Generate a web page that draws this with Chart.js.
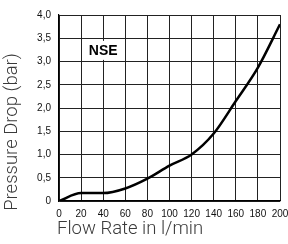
<!DOCTYPE html>
<html>
<head>
<meta charset="utf-8">
<script src="https://cdn.jsdelivr.net/npm/chart.js@4"></script>
<style>
  html, body { margin: 0; padding: 0; background: #fff; }
  #wrap { width: 288px; height: 244px; position: relative; }
</style>
</head>
<body>
<div id="wrap"><canvas id="chart"></canvas></div>
<script>
// flow rate (l/min) and pressure drop (bar)
const flowRate = [0, 20, 40, 60, 80, 100, 120, 140, 160, 180, 200];
const pressureDrop = [0, 0.17, 0.17, 0.27, 0.48, 0.76, 1.0, 1.45, 2.15, 2.87, 3.8];
const yTicks = [0, 0.5, 1.0, 1.5, 2.0, 2.5, 3.0, 3.5, 4.0];
const seriesLabel = 'NSE';
const xTitle = 'Flow Rate in l/min';
const yTitle = 'Pressure Drop (bar)';

// NSE tag on a white patch, plus the two axis titles (they sit off-centre in the original)
const annotations = {
    id: 'annotations',
    afterDraw(chart) {
        const { ctx, scales } = chart;
        const cx = scales.x.getPixelForValue(40);
        const cy = scales.y.getPixelForValue(3.25);
        ctx.save();
        ctx.fillStyle = '#fff';
        ctx.fillRect(cx - 20, cy - 9, 40, 19);
        ctx.fillStyle = '#000';
        ctx.font = 'bold 14px "Liberation Sans", Arial, sans-serif';
        ctx.textAlign = 'center';
        ctx.textBaseline = 'middle';
        ctx.fillText(seriesLabel, cx, cy + 1);

        ctx.fillStyle = '#3a3a3a';
        ctx.font = '300 18.5px Roboto, "Liberation Sans", sans-serif';
        ctx.textAlign = 'left';
        ctx.textBaseline = 'middle';
        ctx.fillText(xTitle, 57, 229);

        ctx.translate(12, 132);
        ctx.rotate(-Math.PI / 2);
        ctx.textAlign = 'center';
        ctx.fillText(yTitle, 0, 0);
        ctx.restore();
    }
};

const chart = new Chart(document.getElementById('chart'), {
    type: 'scatter',
    data: {
        datasets: [{
            data: flowRate.map((f, i) => ({ x: f, y: pressureDrop[i] })),
            showLine: true,
            borderColor: '#000',
            borderWidth: 2.5,
            pointRadius: 0,
            cubicInterpolationMode: 'monotone'
        }]
    },
    options: {
        responsive: true,
        maintainAspectRatio: false,
        animation: false,
        layout: { padding: { top: 15, right: 0, left: 0, bottom: 0 } },
        plugins: { legend: { display: false }, tooltip: { enabled: false } },
        scales: {
            x: {
                type: 'linear',
                min: 0, max: 200,
                afterFit: s => { s.height = 43; s.paddingLeft = 0; s.paddingRight = 8; },
                grid: { color: '#222', lineWidth: 1, drawTicks: false },
                border: { color: '#000', width: 1.2 },
                ticks: {
                    stepSize: 20, padding: 7, maxRotation: 0, autoSkip: false,
                    color: '#111',
                    font: { family: '"Liberation Sans", Arial, sans-serif', size: 10 }
                }
            },
            y: {
                min: 0, max: 4,
                afterFit: s => { s.width = 59; },
                afterBuildTicks: s => { s.ticks = yTicks.map(v => ({ value: v })); },
                grid: { color: '#222', lineWidth: 1, drawTicks: false },
                border: { color: '#000', width: 1.2 },
                ticks: {
                    padding: 8, color: '#111',
                    font: { family: '"Liberation Sans", Arial, sans-serif', size: 10 },
                    callback: v => v === 0 ? '0' : v.toFixed(1).replace('.', ',')
                }
            }
        }
    },
    plugins: [annotations]
});
</script>
</body>
</html>
